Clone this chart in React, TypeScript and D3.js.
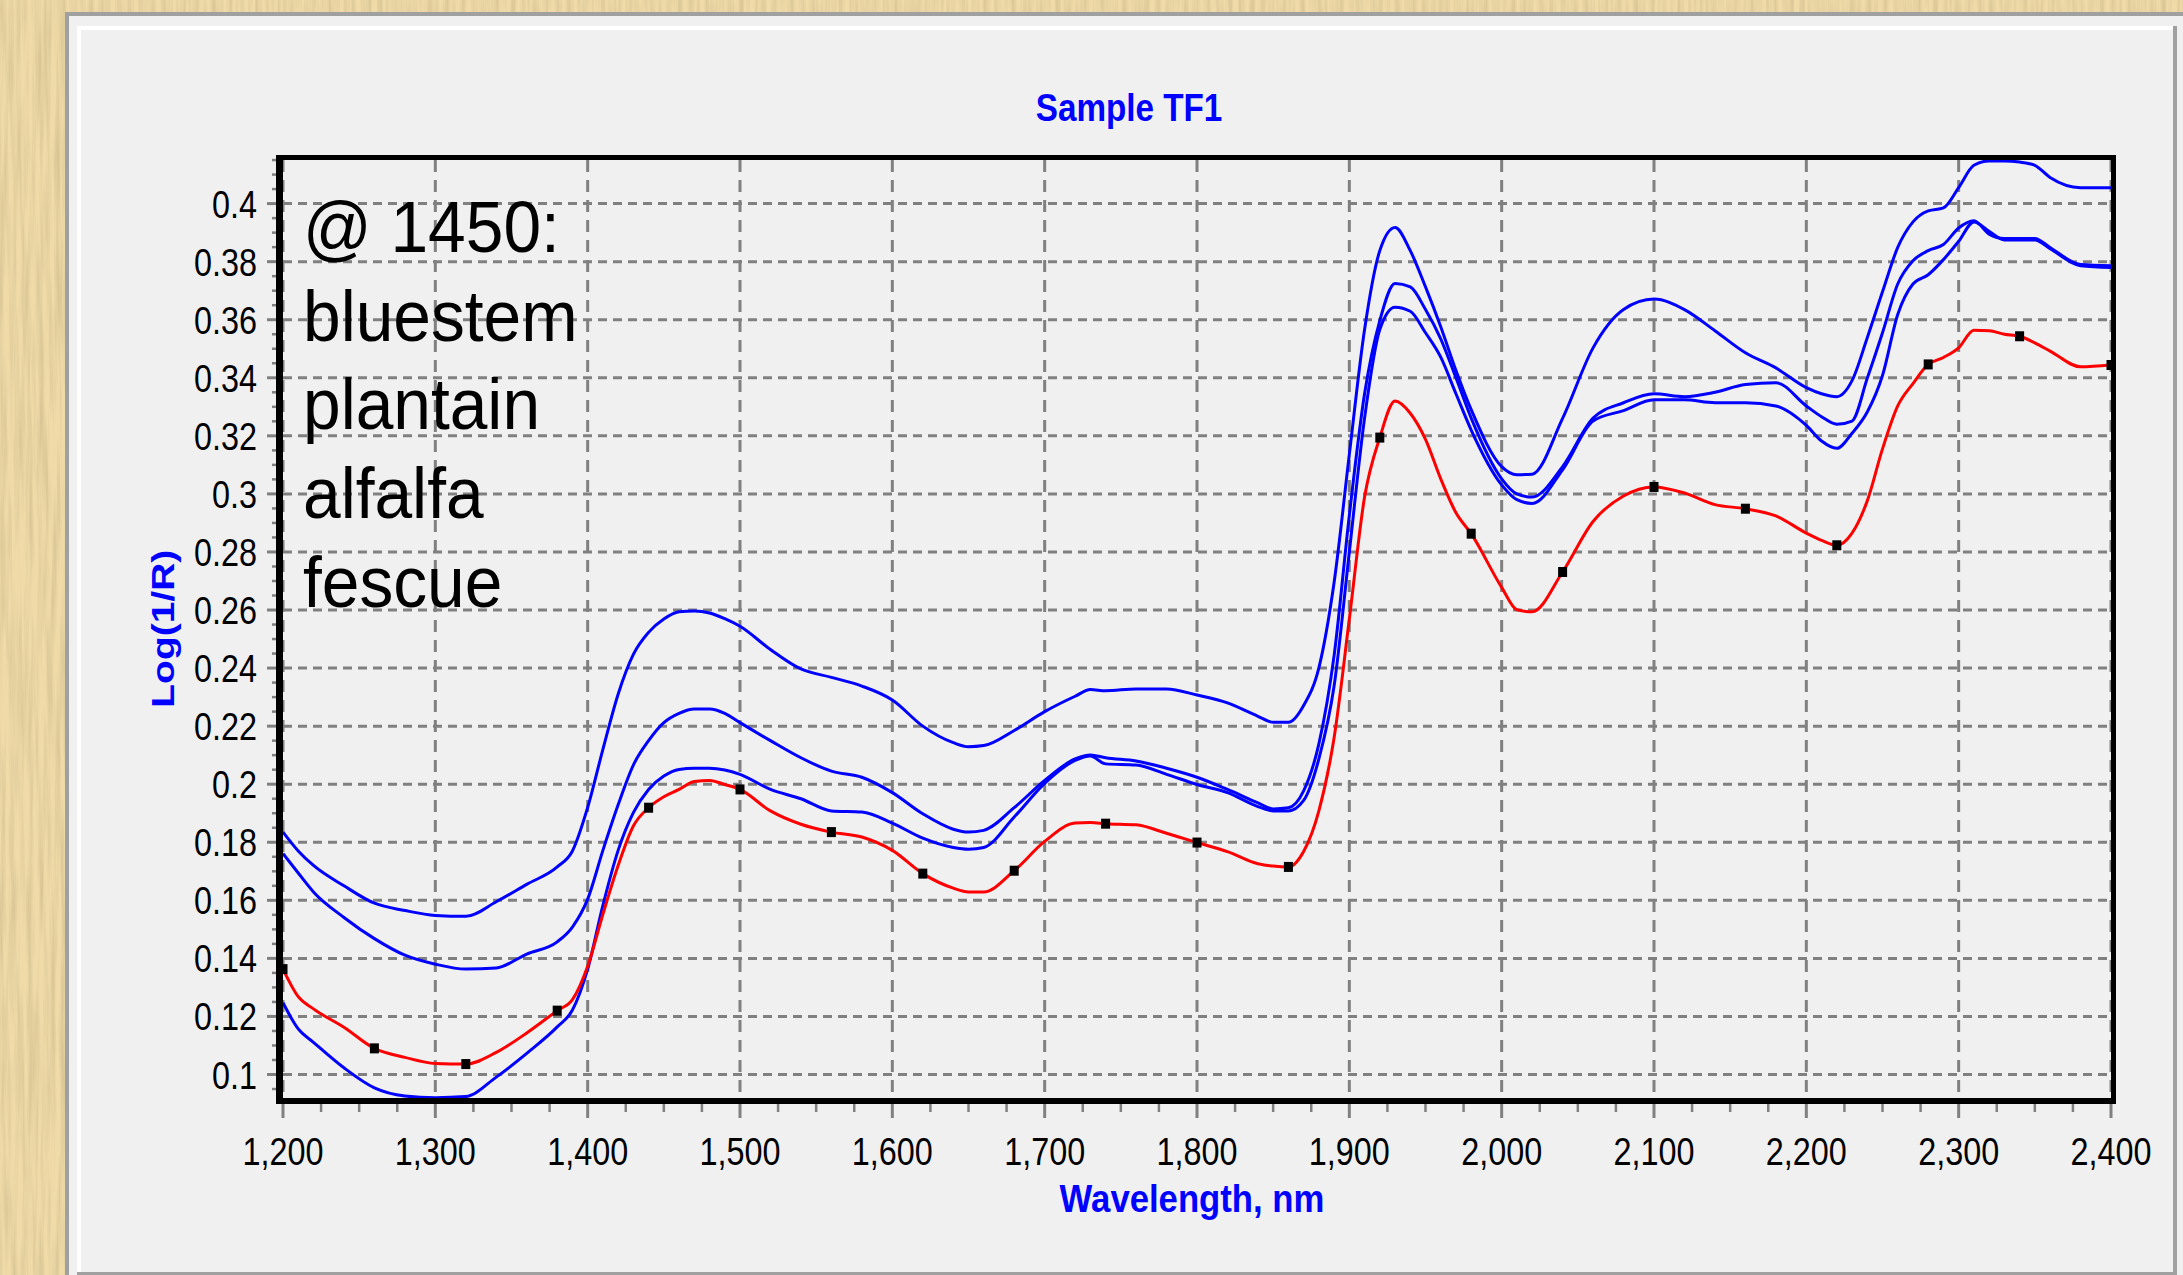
import React from 'react';
import * as d3 from 'd3';

// wavelength grid (nm) shared by all four spectra
const wavelengths = [
  1200, 1210, 1220, 1240, 1260, 1280, 1300, 1320, 1340, 1360,
  1380, 1390, 1400, 1410, 1420, 1430, 1440, 1450, 1460, 1470,
  1480, 1490, 1500, 1520, 1540, 1560, 1580, 1600, 1620, 1640,
  1650, 1660, 1680, 1700, 1720, 1730, 1740, 1760, 1780, 1800,
  1820, 1840, 1850, 1860, 1870, 1880, 1890, 1900, 1910, 1920,
  1930, 1940, 1950, 1960, 1970, 1980, 2000, 2010, 2020, 2040, 2060,
  2080, 2100, 2120, 2140, 2160, 2180, 2200, 2210, 2220, 2230,
  2240, 2250, 2260, 2270, 2280, 2290, 2300, 2310, 2320, 2330,
  2340, 2350, 2360, 2380, 2400,
];

// Log(1/R) values
const blueTop = [
  0.1835, 0.177, 0.172, 0.165, 0.159, 0.1565, 0.1548, 0.1545, 0.1595, 0.1655,
  0.1715, 0.177, 0.192, 0.212, 0.231, 0.2447, 0.2523, 0.2569, 0.2594, 0.2597,
  0.259, 0.257, 0.2544, 0.2464, 0.2397, 0.2368, 0.2338, 0.229, 0.22, 0.2143,
  0.2129, 0.2133, 0.2185, 0.225, 0.2303, 0.2326, 0.2322, 0.2328, 0.2328, 0.2307,
  0.228, 0.2234, 0.2213, 0.2213, 0.2271, 0.2401, 0.2695, 0.3136, 0.3566, 0.3838,
  0.3918, 0.3838, 0.3713, 0.3576, 0.3425, 0.329, 0.3094, 0.3066, 0.3068, 0.326, 0.3503,
  0.3635, 0.3671, 0.3635, 0.3562, 0.3486, 0.3434, 0.3366, 0.3345, 0.3335, 0.339,
  0.3538, 0.3696, 0.3849, 0.3937, 0.3975, 0.3985, 0.4055, 0.4132, 0.4147, 0.4147,
  0.4143, 0.4132, 0.409, 0.4055, 0.4055,
];

const blueMid = [
  0.1761, 0.1694, 0.1629, 0.1541, 0.1468, 0.1411, 0.138, 0.1363, 0.1367, 0.1415,
  0.1457, 0.1508, 0.1604, 0.1772, 0.1929, 0.2066, 0.215, 0.2212, 0.2244, 0.2259,
  0.2259, 0.2244, 0.2212, 0.215, 0.2091, 0.2045, 0.2024, 0.1971, 0.1898, 0.1845,
  0.1835, 0.1841, 0.1919, 0.2013, 0.2087, 0.2101, 0.2091, 0.208, 0.2055, 0.2024,
  0.1982, 0.1936, 0.1915, 0.1919, 0.1977, 0.2139, 0.2443, 0.2926, 0.3345, 0.3597,
  0.3725, 0.3713, 0.3635, 0.3534, 0.34, 0.3261, 0.3052, 0.3, 0.2989, 0.3094, 0.3261,
  0.3314, 0.3345, 0.3335, 0.335, 0.3377, 0.3383, 0.3303, 0.3266, 0.324, 0.3251,
  0.3398, 0.3555, 0.3723, 0.3803, 0.3838, 0.3859, 0.3916, 0.3941, 0.3895, 0.388,
  0.388, 0.388, 0.3849, 0.379, 0.3786,
];

const blueLow = [
  0.1247, 0.1157, 0.1111, 0.1023, 0.0954, 0.0926, 0.092, 0.0924, 0.0991, 0.1073,
  0.1164, 0.1222, 0.1363, 0.1583, 0.1772, 0.1902, 0.1982, 0.2028, 0.2051, 0.2055,
  0.2055, 0.2049, 0.2034, 0.1982, 0.195, 0.1908, 0.1904, 0.1866, 0.1814, 0.1782,
  0.1776, 0.1782, 0.1887, 0.2003, 0.2082, 0.2097, 0.207, 0.2066, 0.2034, 0.1999,
  0.1971, 0.1923, 0.1908, 0.1908, 0.1944, 0.2087, 0.2338, 0.28, 0.3261, 0.3566,
  0.3643, 0.3629, 0.3555, 0.3471, 0.3345, 0.322, 0.3031, 0.298, 0.2967, 0.3083, 0.3251,
  0.3287, 0.3324, 0.3324, 0.3314, 0.3314, 0.3303, 0.3236, 0.3182, 0.3157, 0.3209,
  0.3282, 0.3408, 0.3618, 0.3723, 0.3755, 0.3807, 0.387, 0.3937, 0.3905, 0.3875,
  0.3875, 0.3875, 0.3845, 0.3786, 0.378,
];

const redSample = [
  0.1363, 0.1268, 0.1226, 0.1163, 0.109, 0.1059, 0.1038, 0.1036, 0.1076, 0.1143,
  0.122, 0.1258, 0.1373, 0.1552, 0.172, 0.1856, 0.1919, 0.1957, 0.1982, 0.2009,
  0.2013, 0.1999, 0.1982, 0.1908, 0.1862, 0.1835, 0.1818, 0.1772, 0.1692, 0.1642,
  0.1629, 0.1629, 0.1702, 0.1803, 0.1866, 0.1868, 0.1864, 0.186, 0.1831, 0.1799,
  0.1768, 0.1726, 0.1718, 0.1715, 0.1768, 0.1908, 0.216, 0.2569, 0.2989, 0.3194,
  0.332, 0.3278, 0.3188, 0.3052, 0.2935, 0.2863, 0.2678, 0.2601, 0.2594, 0.2731, 0.2905,
  0.2993, 0.3024, 0.3003, 0.2963, 0.2949, 0.2924, 0.2865, 0.284, 0.2823, 0.2865,
  0.2976, 0.3155, 0.3303, 0.338, 0.3446, 0.347, 0.3503, 0.3564, 0.3562, 0.355,
  0.3543, 0.352, 0.3492, 0.3438, 0.3444,
];

const xTickValues = [1200, 1300, 1400, 1500, 1600, 1700, 1800, 1900, 2000, 2100, 2200, 2300, 2400];
const yTickValues = [0.1, 0.12, 0.14, 0.16, 0.18, 0.2, 0.22, 0.24, 0.26, 0.28, 0.3, 0.32, 0.34, 0.36, 0.38, 0.4];
const noteLines = ['@ 1450:', 'bluestem', 'plantain', 'alfalfa', 'fescue'];

const W = 2183;
const H = 1275;
const FONT = '"Liberation Sans", Arial, sans-serif';
const GRID = '#808080';

export default function App() {
  const plot = { left: 283, right: 2111, top: 160, bottom: 1098 };

  const x = d3.scaleLinear().domain([1200, 2400]).range([plot.left, plot.right]);
  const y = d3.scaleLinear().domain([0.1, 0.4]).range([1074.5, 203.6]);

  const line = d3
    .line<number>()
    .x((_, i) => x(wavelengths[i]))
    .y((d) => y(d))
    .curve(d3.curveMonotoneX);

  const blues = [blueTop, blueMid, blueLow];
  // the red spectrum carries a marker every 60 nm
  const markers = wavelengths
    .map((w, i) => ({ w, v: redSample[i] }))
    .filter((p) => (p.w - 1200) % 60 === 0);

  const xMinor = d3.range(1200, 2400, 25).filter((w) => w % 100 !== 0);
  const yMinor = d3.range(0.095, 0.4151, 0.005).filter((v) => Math.abs(Math.round(v / 0.02) * 0.02 - v) > 0.001);
  const fmtX = d3.format(',');
  const fmtY = (v: number) => String(+v.toFixed(2));

  return (
    <svg
      width={W}
      height={H}
      viewBox={`0 0 ${W} ${H}`}
      style={{ position: 'absolute', left: 0, top: 0, display: 'block' }}
    >
      <defs>
        <filter id="grain" x="0" y="0" width="100%" height="100%">
          <feTurbulence type="fractalNoise" baseFrequency="0.18 0.008" numOctaves="3" seed="7" />
          <feColorMatrix
            type="matrix"
            values="0 0 0 0 0.66  0 0 0 0 0.52  0 0 0 0 0.28  1.7 0 0 0 -0.62"
          />
        </filter>
        <clipPath id="plotClip">
          <rect x={plot.left} y={plot.top} width={plot.right - plot.left} height={plot.bottom - plot.top} />
        </clipPath>
      </defs>

      {/* wooden backdrop */}
      <rect x={0} y={0} width={W} height={H} fill="#efdaa8" />
      <rect x={0} y={0} width={W} height={H} filter="url(#grain)" />

      {/* window frame */}
      <rect x={65} y={12} width={W - 65} height={H - 12} fill="#a0a0a0" />
      <rect x={69} y={16} width={W - 69} height={H - 16} fill="#f0f0f0" />
      <rect x={77} y={26} width={2100} height={1249} fill="#ffffff" />
      <rect x={81} y={30} width={2092} height={1242} fill="#f0f0f0" />
      <rect x={2173} y={26} width={4} height={1249} fill="#a0a0a0" />
      <rect x={77} y={1272} width={2100} height={3} fill="#a0a0a0" />

      {/* title */}
      <text
        transform="translate(1129,120.5) scale(0.875,1)"
        textAnchor="middle"
        fontFamily={FONT}
        fontWeight="bold"
        fontSize={38}
        fill="#0000ff"
      >
        Sample TF1
      </text>

      {/* grid */}
      <g stroke={GRID} strokeWidth={3}>
        {xTickValues.map((w) => (
          <line key={'gx' + w} x1={x(w)} x2={x(w)} y1={plot.top} y2={plot.bottom} strokeDasharray="12,8" />
        ))}
        {yTickValues.map((v) => (
          <line key={'gy' + v} x1={plot.left} x2={plot.right} y1={y(v)} y2={y(v)} strokeDasharray="9,6" />
        ))}
      </g>

      {/* ticks */}
      <g stroke={GRID}>
        {xTickValues.map((w) => (
          <line key={'tx' + w} x1={x(w)} x2={x(w)} y1={1104} y2={1118} strokeWidth={3} />
        ))}
        {xMinor.map((w) => (
          <line key={'mx' + w} x1={x(w)} x2={x(w)} y1={1104} y2={1112} strokeWidth={2.5} />
        ))}
        {yTickValues.map((v) => (
          <line key={'ty' + v} x1={267} x2={277} y1={y(v)} y2={y(v)} strokeWidth={3} />
        ))}
        {yMinor.map((v) => (
          <line key={'my' + v} x1={272} x2={277} y1={y(v)} y2={y(v)} strokeWidth={2.5} />
        ))}
      </g>

      {/* annotation */}
      <g fontFamily={FONT} fontSize={72} fill="#000">
        {noteLines.map((t, i) => (
          <text key={t} transform={`translate(303,${251.7 + i * 88.8}) scale(0.94,1)`}>
            {t}
          </text>
        ))}
      </g>

      {/* spectra */}
      <g clipPath="url(#plotClip)" fill="none" strokeWidth={3} strokeLinejoin="round">
        {blues.map((s, i) => (
          <path key={'b' + i} d={line(s) || ''} stroke="#0000ff" />
        ))}
        <path d={line(redSample) || ''} stroke="#ff0000" />
      </g>
      <g fill="#000">
        {markers.map((p) => (
          <rect key={'m' + p.w} x={x(p.w) - 4.5} y={y(p.v) - 5} width={9} height={10} />
        ))}
      </g>

      {/* plot frame */}
      <g fill="#000">
        <rect x={276} y={155} width={2116 - 276} height={5} />
        <rect x={276} y={1098} width={2116 - 276} height={6} />
        <rect x={276} y={155} width={7} height={1104 - 155} />
        <rect x={2111} y={155} width={5} height={1104 - 155} />
      </g>

      {/* tick labels */}
      <g fontFamily={FONT} fontSize={39.5} fill="#000">
        {xTickValues.map((w) => (
          <text key={'lx' + w} transform={`translate(${x(w)},1165) scale(0.82,1)`} textAnchor="middle">
            {fmtX(w)}
          </text>
        ))}
        {yTickValues.map((v) => (
          <text key={'ly' + v} transform={`translate(257,${y(v) + 14}) scale(0.82,1)`} textAnchor="end">
            {fmtY(v)}
          </text>
        ))}
      </g>

      {/* axis titles */}
      <text
        transform="translate(1192,1212) scale(0.89,1)"
        textAnchor="middle"
        fontFamily={FONT}
        fontWeight="bold"
        fontSize={39}
        fill="#0000ff"
      >
        Wavelength, nm
      </text>
      <text
        transform="translate(174,628.7) rotate(-90) scale(1,0.79)"
        textAnchor="middle"
        fontFamily={FONT}
        fontWeight="bold"
        fontSize={39}
        fill="#0000ff"
      >
        Log(1/R)
      </text>
    </svg>
  );
}
